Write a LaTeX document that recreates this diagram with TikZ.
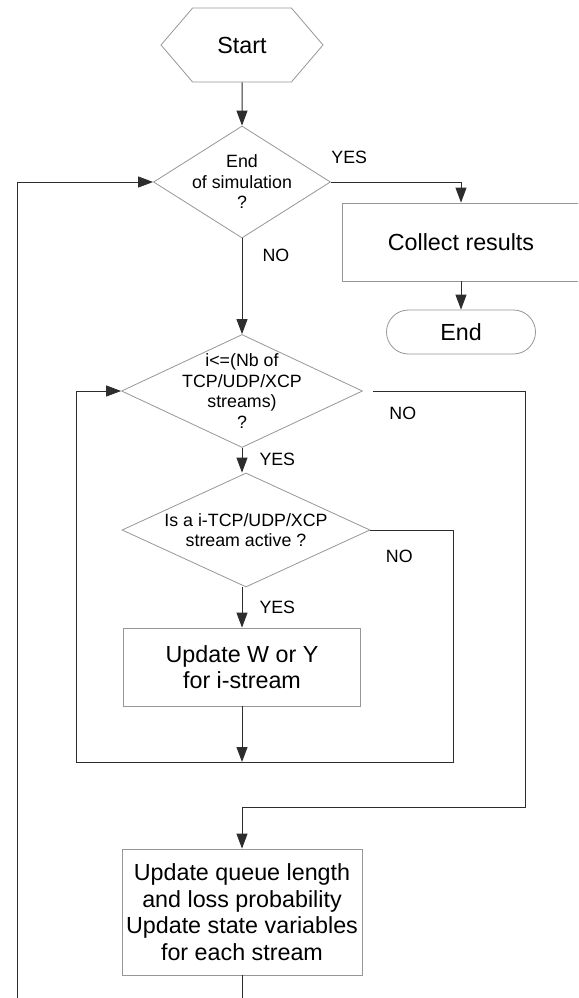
\documentclass[tikz,border=0pt]{standalone}
\usepackage{fontspec}
\setmainfont{Liberation Sans}
\usepackage{tikz}
\usetikzlibrary{shapes.geometric, shapes.symbols, arrows.meta}
\definecolor{shapegray}{RGB}{150,150,150}
\definecolor{linecol}{RGB}{45,45,45}
\newcommand{\qfont}{\fontsize{17.8}{20.5}\selectfont}
\newcommand{\boxfont}{\fontsize{23.3}{26.5}\selectfont}
\tikzstyle{hexa} = [signal, signal to=west and east, signal pointer angle=99, minimum width=162pt, minimum height=74pt, text centered, draw=shapegray, line width=0.8pt, font=\boxfont]
\tikzstyle{startstop} = [rectangle, rounded corners=22pt, minimum width=149pt, minimum height=44pt, text centered, draw=shapegray, line width=0.8pt, font=\boxfont]
\tikzstyle{process} = [rectangle, minimum width=237pt, minimum height=78pt, inner sep=0pt, align=center, draw=shapegray, line width=0.8pt, font=\boxfont]
\tikzstyle{decision} = [diamond, inner sep=0pt, draw=shapegray, line width=0.8pt]
\tikzstyle{qtext} = [font=\qfont, align=center, inner sep=0pt]
\tikzstyle{lbl} = [font=\qfont, inner sep=0pt]
\tikzstyle{arrow} = [line width=1pt, draw=linecol, ->, >={Triangle[length=15pt, width=11pt]}]

\begin{document}
\begin{tikzpicture}[x=1pt, y=-1pt, node distance=137pt]
	\useasboundingbox (0,0) rectangle (578,998);
	\clip (0,0) rectangle (578,998);

	\node (start) [hexa] at (242,45) {Start};
	\node (simend) [decision, below of=start, minimum width=177pt, minimum height=112pt, label={[qtext]center:End\\of simulation\\?}] {};
	\node (collect) [process, right of=simend, xshift=82pt, yshift=-60pt, minimum width=238pt] {Collect results};
	\node (stop) [startstop, below of=collect, yshift=47pt] {End};
	\node (streams) [decision, below of=simend, yshift=-72pt, minimum width=241pt, minimum height=113pt, label={[qtext]center:i<=(Nb of\\TCP/UDP/XCP\\streams)\\?}] {};
	\node (active) [decision, below of=streams, xshift=4pt, yshift=-2pt, minimum width=248pt, minimum height=114pt, label={[qtext]center:Is a i-TCP/UDP/XCP\\stream active ?}] {};
	\node (update) [process, below of=active, xshift=-4pt] {Update W or Y\\for i-stream};
	\node (queue) [process, below of=update, yshift=-108pt, minimum width=240pt, minimum height=126pt] {Update queue length\\and loss probability\\Update state variables\\for each stream};

	% corners of the two loops
	\coordinate (loopin) at (76,762);
	\coordinate (loopout) at (453,762);
	\coordinate (rail) at (525,807);
	\coordinate (back) at (17,1030);

	\draw [arrow] (start) -- (simend);
	\draw [arrow] (simend.east) -| node[lbl, pos=0, anchor=south west, yshift=18pt] {YES} (collect);
	\draw [arrow] (collect) -- (stop);
	\draw [arrow] (simend) -- node[lbl, pos=0.18, anchor=west, xshift=20pt] {NO} (streams);

	\draw [arrow] (streams) -- node[lbl, pos=0.45, anchor=west, xshift=17pt] {YES} (streams.south |- active.north);
	\draw [arrow] (active.south -| update.north) -- node[lbl, anchor=west, xshift=17pt] {YES} (update);
	\draw [arrow] (update) -- (update |- loopin);

	\draw [arrow] (active.east) -| node[lbl, pos=0, anchor=north west, xshift=15pt, yshift=-20pt] {NO} (loopout) -- (loopin) |- (streams.west);
	\draw [arrow] ([xshift=10pt]streams.east) -| node[lbl, pos=0, anchor=north west, xshift=16pt, yshift=-16pt] {NO} (rail) -| (queue);

	\draw [arrow] (queue) |- (back) |- (simend.west);

\end{tikzpicture}
\end{document}
